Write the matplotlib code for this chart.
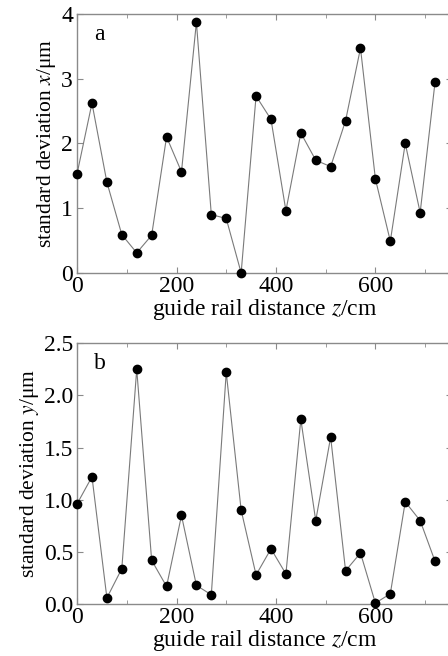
import matplotlib
matplotlib.use("Agg")
import matplotlib.pyplot as plt
from matplotlib.ticker import MultipleLocator

plt.rcParams['font.family'] = ['Liberation Serif', 'DejaVu Serif']
plt.rcParams['mathtext.fontset'] = 'stix'

z_cm = [0, 30, 60, 90, 120, 150, 180, 210, 240, 270, 300, 330, 360, 390, 420,
        450, 480, 510, 540, 570, 600, 630, 660, 690, 720]
std_x = [1.53, 2.62, 1.40, 0.59, 0.31, 0.58, 2.10, 1.56, 3.87, 0.90, 0.84, 0.00,
         2.73, 2.37, 0.96, 2.16, 1.74, 1.64, 2.35, 3.47, 1.45, 0.49, 2.00, 0.93, 2.95]
std_y = [0.96, 1.22, 0.06, 0.34, 2.25, 0.42, 0.17, 0.85, 0.18, 0.09, 2.22, 0.90,
         0.28, 0.53, 0.29, 1.77, 0.80, 1.60, 0.32, 0.49, 0.01, 0.10, 0.98, 0.80, 0.41]

x_ticks = [0, 200, 400, 600]
ya_ticks = [0, 1, 2, 3, 4]
ya_labels = ['0', '1', '2', '3', '4']
yb_ticks = [0.0, 0.5, 1.0, 1.5, 2.0, 2.5]
yb_labels = ['0.0', '0.5', '1.0', '1.5', '2.0', '2.5']

fig = plt.figure(figsize=(4.48, 6.56), dpi=100)
W = 0.838
axa = fig.add_axes([0.172, 0.584, W, 0.395])
axb = fig.add_axes([0.172, 0.079, W, 0.398])

spine_col = '#8a8a8a'

def style(ax, y, yt, yl, ylim, ylabel, tag):
    ax.plot(z_cm, y, color='#7a7a7a', lw=0.8, marker='o', ms=6,
            mfc='black', mec='black', clip_on=False, zorder=3)
    ax.set_xlim(0, 755)
    ax.set_ylim(*ylim)
    ax.set_xticks(x_ticks)
    ax.set_xticklabels([str(v) for v in x_ticks])
    ax.xaxis.set_minor_locator(MultipleLocator(100))
    ax.set_yticks(yt)
    ax.set_yticklabels(yl)
    for s in ax.spines.values():
        s.set_color(spine_col)
        s.set_linewidth(1.0)
    ax.tick_params(which='both', direction='in', top=True, right=True,
                   color=spine_col, labelsize=17)
    ax.tick_params(axis='y', pad=3)
    ax.tick_params(axis='x', pad=2)
    ax.tick_params(which='major', length=4)
    ax.tick_params(which='minor', length=3)
    ax.set_xlabel('guide rail distance $z$/cm', fontsize=17, labelpad=0)
    ax.set_ylabel(ylabel, fontsize=15.5, labelpad=2)
    ax.text(0.045, 0.92, tag, transform=ax.transAxes, fontsize=17,
            ha='left', va='center')

style(axa, std_x, ya_ticks, ya_labels, (0, 4), 'standard deviation $x$/μm', 'a')
style(axb, std_y, yb_ticks, yb_labels, (0, 2.5), 'standard deviation $y$/μm', 'b')

fig.savefig('out.png', dpi=100)
